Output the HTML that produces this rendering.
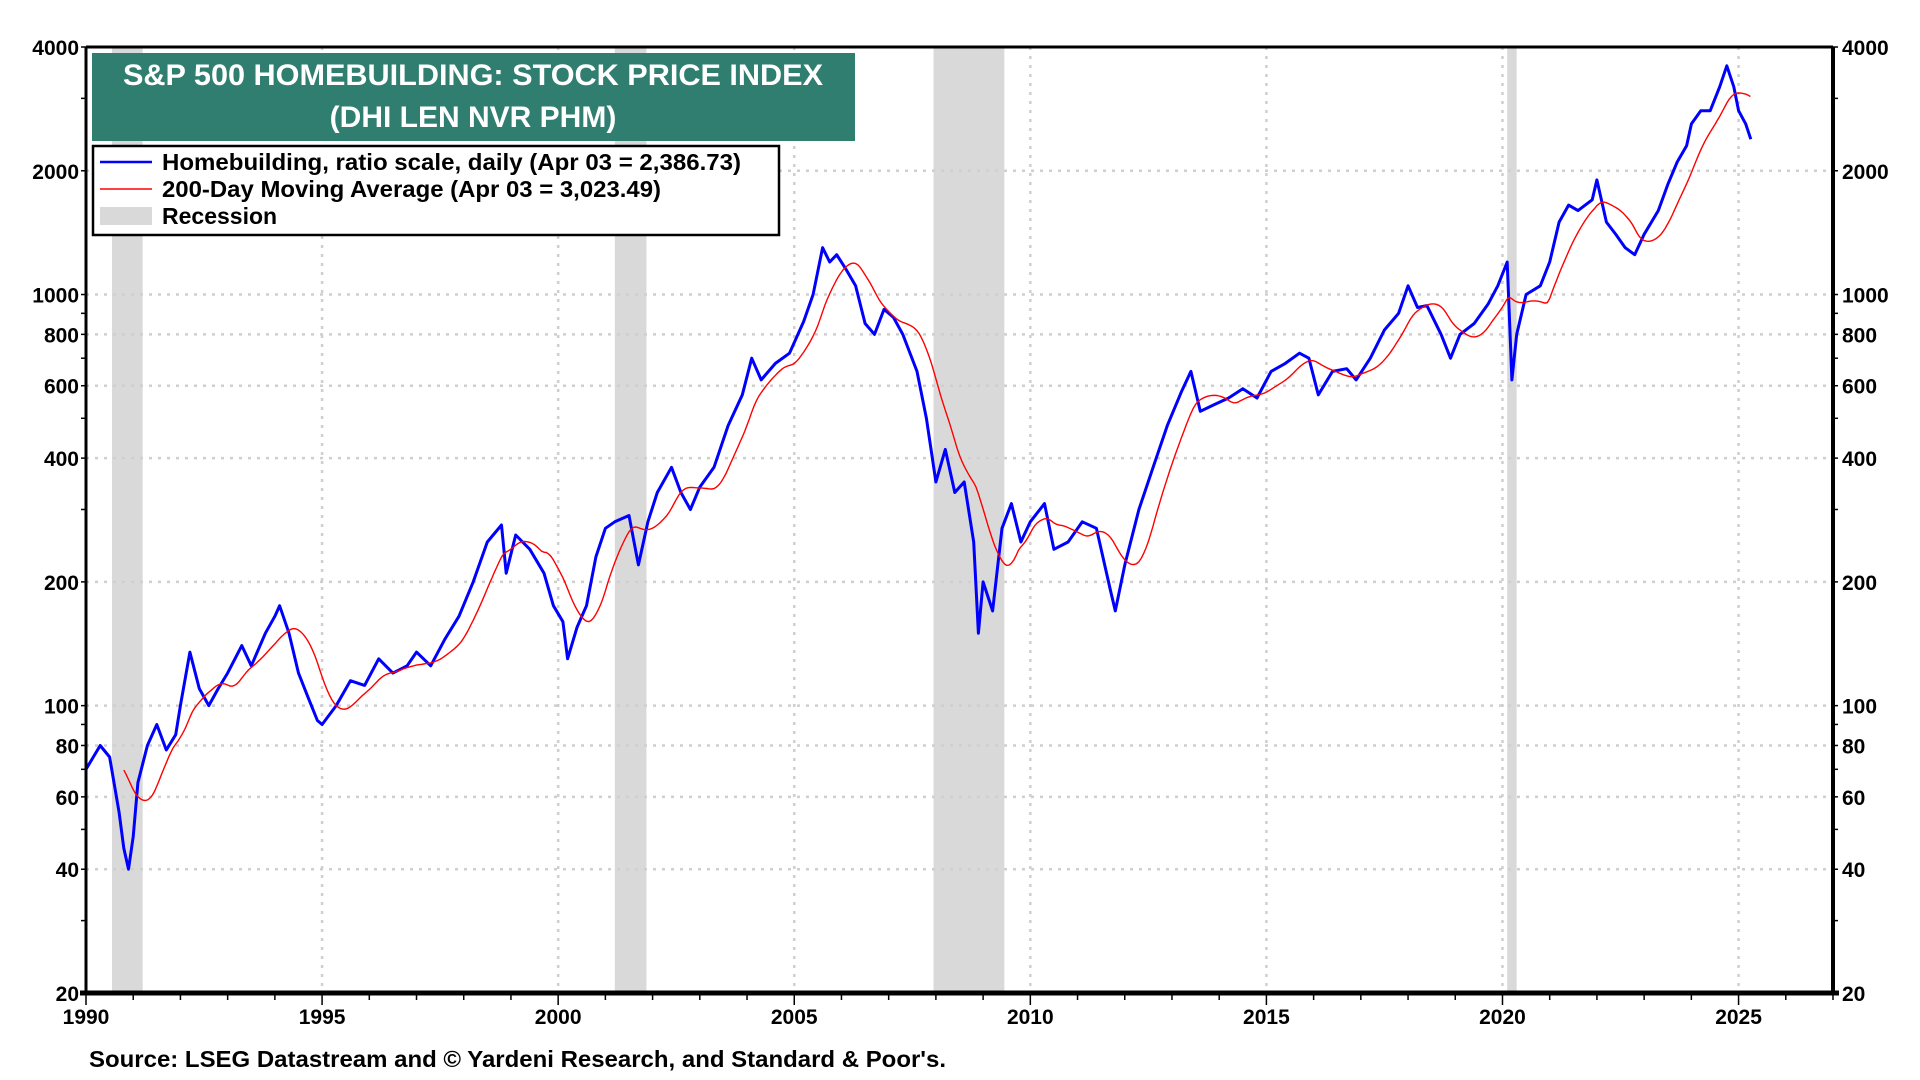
<!DOCTYPE html>
<html><head><meta charset="utf-8"><style>
html,body{margin:0;padding:0;background:#fff;}
body{width:1920px;height:1080px;overflow:hidden;position:relative;font-family:"Liberation Sans",Arial,sans-serif;}
svg{position:absolute;left:0;top:0;}
</style></head><body>
<svg id="chart" width="1920" height="1080" viewBox="0 0 1920 1080" xmlns="http://www.w3.org/2000/svg"></svg>
<script>
const years = [1990.0,1990.3,1990.5,1990.7,1990.8,1990.9,1991.0,1991.1,1991.3,1991.5,1991.7,1991.9,1992.0,1992.2,1992.4,1992.6,1992.8,1993.0,1993.3,1993.5,1993.8,1994.0,1994.1,1994.3,1994.5,1994.7,1994.9,1995.0,1995.3,1995.6,1995.9,1996.2,1996.5,1996.8,1997.0,1997.3,1997.6,1997.9,1998.2,1998.5,1998.8,1998.9,1999.1,1999.4,1999.7,1999.9,2000.1,2000.2,2000.4,2000.6,2000.8,2001.0,2001.2,2001.5,2001.7,2001.9,2002.1,2002.4,2002.6,2002.8,2003.0,2003.3,2003.6,2003.9,2004.1,2004.3,2004.6,2004.9,2005.2,2005.4,2005.6,2005.75,2005.9,2006.1,2006.3,2006.5,2006.7,2006.9,2007.1,2007.3,2007.6,2007.8,2008.0,2008.2,2008.4,2008.6,2008.8,2008.9,2009.0,2009.2,2009.4,2009.6,2009.8,2010.0,2010.3,2010.5,2010.8,2011.1,2011.4,2011.7,2011.8,2012.0,2012.3,2012.6,2012.9,2013.2,2013.4,2013.6,2013.9,2014.2,2014.5,2014.8,2015.1,2015.4,2015.7,2015.9,2016.1,2016.4,2016.7,2016.9,2017.2,2017.5,2017.8,2018.0,2018.2,2018.4,2018.7,2018.9,2019.1,2019.4,2019.7,2019.9,2020.1,2020.2,2020.3,2020.5,2020.8,2021.0,2021.2,2021.4,2021.6,2021.9,2022.0,2022.2,2022.4,2022.6,2022.8,2023.0,2023.3,2023.5,2023.7,2023.9,2024.0,2024.2,2024.4,2024.6,2024.75,2024.9,2025.0,2025.15,2025.26];
const values = [70,80,75,55,45,40,48,65,80,90,78,85,100,135,110,100,110,120,140,125,150,165,175,150,120,105,92,90,100,115,112,130,120,125,135,125,145,165,200,250,275,210,260,240,210,175,160,130,155,175,230,270,280,290,220,280,330,380,330,300,340,380,480,570,700,620,680,720,860,1000,1300,1200,1250,1150,1050,850,800,920,880,800,650,500,350,420,330,350,250,150,200,170,270,310,250,280,310,240,250,280,270,190,170,220,300,380,480,580,650,520,540,560,590,560,650,680,720,700,570,650,660,620,700,820,900,1050,930,940,800,700,800,850,950,1050,1200,620,800,1000,1050,1200,1500,1650,1600,1700,1900,1500,1400,1300,1250,1400,1600,1850,2100,2300,2600,2800,2800,3200,3600,3200,2800,2600,2387];
const yTicks = [20,40,60,80,100,200,400,600,800,1000,2000,4000];
const xTicks = [1990,1995,2000,2005,2010,2015,2020,2025];
const recStart = [1990.55,2001.2,2007.95,2020.1];
const recEnd = [1991.2,2001.87,2009.45,2020.3];

const L=86,R=1833,T=47,B=993;
const X0=1990,X1=2027,YMIN=20,YMAX=4000;
const xs=v=>L+(v-X0)/(X1-X0)*(R-L);
const ys=v=>B-(Math.log10(v)-Math.log10(YMIN))/(Math.log10(YMAX)-Math.log10(YMIN))*(B-T);
const svg=document.getElementById('chart');
const NS='http://www.w3.org/2000/svg';
function mk(tag,attrs,parent){const e=document.createElementNS(NS,tag);for(const k in attrs)e.setAttribute(k,attrs[k]);(parent||svg).appendChild(e);return e;}

for(let i=0;i<recStart.length;i++){
  const r=mk('rect',{x:xs(recStart[i]),y:T,width:xs(recEnd[i])-xs(recStart[i]),height:B-T,fill:'#d9d9d9'});
  
  
}
xTicks.forEach(t=>{if(t>X0){const g=mk('line',{x1:xs(t),x2:xs(t),y1:T,y2:B,stroke:'#cfcfcf','stroke-width':2.5,'stroke-dasharray':'3 6'});
  
  }});
yTicks.forEach(t=>{if(t>YMIN&&t<YMAX){const g=mk('line',{x1:L,x2:R,y1:ys(t),y2:ys(t),stroke:'#cfcfcf','stroke-width':2.5,'stroke-dasharray':'3 6'});
  
  }});

function interp(t){
  if(t<=years[0])return values[0];
  for(let i=1;i<years.length;i++){if(t<=years[i]){const f=(t-years[i-1])/(years[i]-years[i-1]);return values[i-1]+f*(values[i]-values[i-1]);}}
  return values[values.length-1];
}
let maPts=[];
const W=0.8,step=0.02;
for(let t=years[0]+W;t<=years[years.length-1]+1e-9;t+=0.05){
  let s=0,n=0;for(let u=t-W;u<=t;u+=step){s+=interp(u);n++;}
  maPts.push([xs(t),ys(s/n)]);
}
const seriesD=years.map((y,i)=>(i?'L':'M')+xs(y).toFixed(1)+','+ys(values[i]).toFixed(1)).join('');
const sp=mk('path',{d:seriesD,fill:'none',stroke:'#0000ff','stroke-width':3,'stroke-linejoin':'round'});


const mp=mk('path',{d:maPts.map((p,i)=>(i?'L':'M')+p[0].toFixed(1)+','+p[1].toFixed(1)).join(''),fill:'none',stroke:'#ff0000','stroke-width':1.4});



mk('line',{x1:L,x2:R,y1:T,y2:T,stroke:'#000','stroke-width':3});
mk('line',{x1:L,x2:L,y1:T,y2:B,stroke:'#000','stroke-width':3});
mk('line',{x1:R,x2:R,y1:T,y2:B,stroke:'#000','stroke-width':4});
mk('line',{x1:L-6,x2:R+6,y1:B,y2:B,stroke:'#000','stroke-width':5});
for(let y=1990;y<=2027;y++){mk('line',{x1:xs(y),x2:xs(y),y1:B,y2:B+(y%5===0?12:7),stroke:'#000','stroke-width':1.5});}
xTicks.forEach(t=>{const tx=mk('text',{x:xs(t),y:B+31,'text-anchor':'middle','font-size':21,'font-weight':'bold',fill:'#000'});tx.textContent=t;
  
  });
const minor=[20,30,40,50,60,70,80,90,100,200,300,400,500,600,700,800,900,1000,2000,3000,4000];
minor.forEach(v=>{mk('line',{x1:L-5,x2:L,y1:ys(v),y2:ys(v),stroke:'#000','stroke-width':1.5});mk('line',{x1:R,x2:R+5,y1:ys(v),y2:ys(v),stroke:'#000','stroke-width':1.5});});
yTicks.forEach(t=>{
  const a=mk('text',{x:L-7,y:ys(t)+8,'text-anchor':'end','font-size':21,'font-weight':'bold',fill:'#000'});a.textContent=t;
  
  
  const b=mk('text',{x:R+9,y:ys(t)+8,'text-anchor':'start','font-size':21,'font-weight':'bold',fill:'#000'});b.textContent=t;
  
  
});
</script>
<svg width="1920" height="1080" style="pointer-events:none" xmlns="http://www.w3.org/2000/svg">
  <g>
    <rect x="92" y="53" width="763" height="88" fill="#2f7e70"/>
    <text x="473" y="85" text-anchor="middle" font-size="30" font-weight="bold" fill="#fff" font-family="Liberation Sans, sans-serif" textLength="700" lengthAdjust="spacingAndGlyphs">S&amp;P 500 HOMEBUILDING: STOCK PRICE INDEX</text>
    <text x="473" y="127" text-anchor="middle" font-size="30" font-weight="bold" fill="#fff" font-family="Liberation Sans, sans-serif">(DHI LEN NVR PHM)</text>
  </g>
  <g font-family="Liberation Sans, sans-serif" font-size="23" font-weight="bold">
    <rect x="93" y="146" width="686" height="89" fill="#fff" stroke="#000" stroke-width="2.5"/>
    <line x1="100" y1="162" x2="152" y2="162" stroke="#0000ff" stroke-width="2.5"/>
    <text x="162" y="170" textLength="579" lengthAdjust="spacingAndGlyphs">Homebuilding, ratio scale, daily (Apr 03 = 2,386.73)</text>
    <line x1="100" y1="189" x2="152" y2="189" stroke="#ff0000" stroke-width="1.4"/>
    <text x="162" y="197" textLength="499" lengthAdjust="spacingAndGlyphs">200-Day Moving Average (Apr 03 = 3,023.49)</text>
    <rect x="100" y="207" width="52" height="18" fill="#d9d9d9"/>
    <text x="162" y="224">Recession</text>
  </g>
  <text x="89" y="1067" font-size="23" font-weight="bold" font-family="Liberation Sans, sans-serif" textLength="857" lengthAdjust="spacingAndGlyphs">Source: LSEG Datastream and © Yardeni Research, and Standard &amp; Poor's.</text>
</svg>
</body></html>
